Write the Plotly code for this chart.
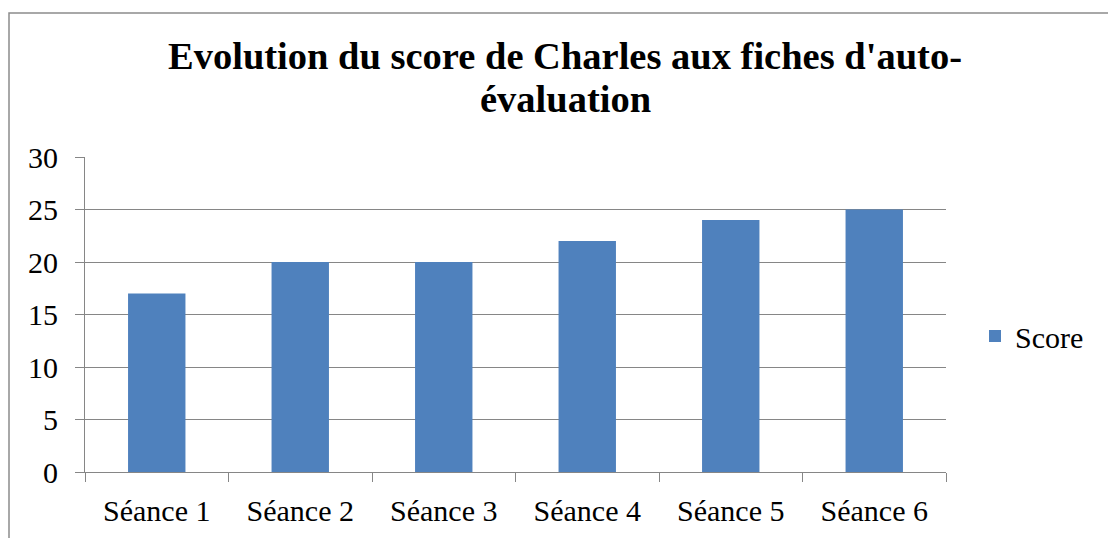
import plotly.graph_objects as go

categories = ["Séance 1", "Séance 2", "Séance 3", "Séance 4", "Séance 5", "Séance 6"]
scores = [17, 20, 20, 22, 24, 25]
y_ticks = [0, 5, 10, 15, 20, 25, 30]
title_lines = ["Evolution du score de Charles aux fiches d'auto-", "évaluation"]

W, H = 1108, 538
L, R, T, B = 85, 946, 157, 472

fig = go.Figure()
fig.add_trace(go.Bar(x=categories, y=scores, name="Score",
                     marker=dict(color="#4F81BD", line=dict(width=0)), width=0.4))

def px2paperx(px):
    return (px - L) / (R - L)

def px2papery(py):
    return (B - py) / (B - T)

fig.update_layout(
    width=W, height=H,
    margin=dict(l=L, r=W - R, t=T, b=H - B),
    paper_bgcolor="white", plot_bgcolor="white",
    font=dict(family="Liberation Serif", size=30, color="black"),
    showlegend=True,
    legend=dict(x=px2paperx(975), y=px2papery(336), xanchor="left", yanchor="middle",
                font=dict(size=30), bgcolor="rgba(0,0,0,0)", itemwidth=30),
    xaxis=dict(type="category", tickson="boundaries", ticks="outside", ticklen=9, tickcolor="#868686",
               showline=True, linecolor="#868686", linewidth=1, showgrid=False,
               tickfont=dict(size=30), ticklabelstandoff=12),
    yaxis=dict(range=[0, 30], tickvals=y_ticks, ticks="outside", ticklen=9, tickcolor="#868686",
               showline=True, linecolor="#868686", linewidth=1, showgrid=True, gridcolor="#868686",
               gridwidth=1, zeroline=False, tickfont=dict(size=30), ticklabelstandoff=11),
)
for line, ypx in zip(title_lines, [56, 99]):
    fig.add_annotation(text=line, xref="paper", yref="paper", x=px2paperx(565), y=px2papery(ypx),
                       xanchor="center", yanchor="middle", showarrow=False,
                       font=dict(family="Liberation Serif", size=38.5, color="black", weight="bold"))
fig.add_shape(type="rect", xref="paper", yref="paper",
              x0=px2paperx(9), x1=px2paperx(1112), y0=px2papery(545), y1=px2papery(13),
              line=dict(color="#8c8c8c", width=1.5), fillcolor="rgba(0,0,0,0)", layer="below")

fig.write_html("out.html", config={"displayModeBar": False},
               post_script="document.body.style.margin='0';")
